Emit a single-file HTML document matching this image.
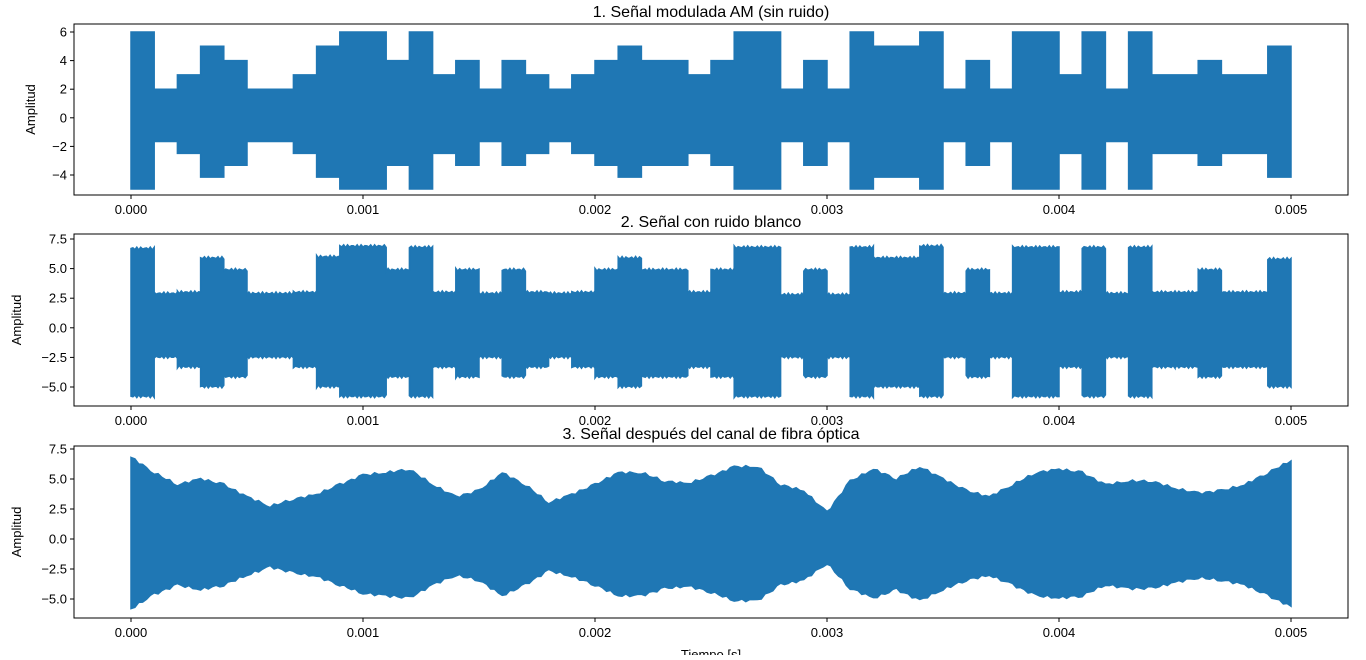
<!DOCTYPE html>
<html><head><meta charset="utf-8"><style>
body{margin:0;background:#fff;width:1366px;height:655px;overflow:hidden}
svg{font-family:"Liberation Sans","DejaVu Sans",sans-serif}
</style></head><body>
<svg id="c" width="1366" height="655"></svg>
<script>
const xTicks=[0,0.001,0.002,0.003,0.004,0.005];
const xTickLabels=["0.000","0.001","0.002","0.003","0.004","0.005"];
const symbolLevels=[6,2,3,5,4,2,2,3,5,6,6,4,6,3,4,2,4,3,2,3,4,5,4,4,3,4,6,6,2,4,2,6,5,5,6,2,4,2,6,6,3,6,2,6,3,3,4,3,3,5];
const noisyTop=[6.7,2.9,3.0,5.9,4.9,2.9,2.9,3.0,6.0,6.9,6.9,4.9,6.8,3.0,4.9,2.9,4.9,3.0,2.9,3.0,4.9,5.9,4.9,4.9,3.0,4.9,6.8,6.8,2.8,4.9,2.8,6.8,5.9,5.9,6.9,2.9,4.9,2.9,6.8,6.8,3.0,6.8,2.9,6.8,3.0,3.0,4.9,3.0,3.0,5.8];
const fiberTop=[6.8,5.5,4.5,5.0,4.5,3.5,2.7,3.3,3.7,4.5,5.3,5.5,5.8,4.5,3.5,4.0,5.5,4.5,3.0,3.7,4.5,5.5,5.5,4.8,4.6,5.2,6.0,6.0,4.5,4.0,2.2,4.8,5.8,5.0,6.0,5.0,4.0,3.5,4.5,5.5,5.8,5.5,4.5,4.8,4.8,4.2,3.8,4.0,4.5,5.5,6.5];
const fiberBottom=[-5.8,-4.6,-3.8,-4.2,-3.8,-3.0,-2.3,-2.8,-3.1,-3.8,-4.5,-4.7,-4.9,-3.8,-3.0,-3.4,-4.7,-3.8,-2.6,-3.1,-3.8,-4.7,-4.7,-4.1,-3.9,-4.4,-5.1,-5.1,-3.8,-3.4,-2.0,-4.1,-4.9,-4.2,-5.1,-4.2,-3.4,-3.0,-3.8,-4.7,-4.9,-4.7,-3.8,-4.1,-4.1,-3.6,-3.2,-3.4,-3.8,-4.7,-5.6];
const yTicks1=[6,4,2,0,-2,-4], yTickLabels1=["6","4","2","0","−2","−4"];
const yTicks23=[7.5,5,2.5,0,-2.5,-5], yTickLabels23=["7.5","5.0","2.5","0.0","−2.5","−5.0"];
const titles=["1. Señal modulada AM (sin ruido)","2. Señal con ruido blanco","3. Señal después del canal de fibra óptica"];

const NS="http://www.w3.org/2000/svg",svg=document.getElementById('c');
function mk(t,a,p){const e=document.createElementNS(NS,t);for(const k in a)e.setAttribute(k,a[k]);(p||svg).appendChild(e);return e;}
const X0=74,X1=1348,xs=v=>131+v*232000;
const panels=[{top:24,bot:195,ys:v=>117.8-v*14.3,ticks:yTicks1,labels:yTickLabels1},
{top:234,bot:406,ys:v=>327.8-v*11.84,ticks:yTicks23,labels:yTickLabels23},
{top:446,bot:618,ys:v=>539-v*12.0,ticks:yTicks23,labels:yTickLabels23}];
panels.forEach((p,pi)=>{
  const g=mk('g',{});
  
  
  let top=[],bot=[];
  if(pi<2){
    symbolLevels.forEach((L,i)=>{
      const t=pi==0?L:noisyTop[i];
      const b=pi==0?-0.83*L:-0.83*L-0.8;
      const xa=xs(i*0.0001),xb=xs((i+1)*0.0001);
      if(pi==0){top.push([xa,p.ys(t)],[xb,p.ys(t)]);bot.push([xa,p.ys(b)],[xb,p.ys(b)]);}
      else{for(let k=0;k<=12;k++){const x=xa+(xb-xa)*k/12,w=Math.sin(i*7.3+k*2.7)*0.12;top.push([x,p.ys(t+w)]);bot.push([x,p.ys(b-w)]);}}
    });
  } else {
    for(let i=0;i<fiberTop.length-1;i++){
      for(let k=0;k<6;k++){const f=k/6,x=xs((i+f)*0.0001),w=Math.sin(i*5.1+k*2.3)*0.12;
        top.push([x,p.ys(fiberTop[i]*(1-f)+fiberTop[i+1]*f+w)]);
        bot.push([x,p.ys(fiberBottom[i]*(1-f)+fiberBottom[i+1]*f-w)]);}
    }
    const n=fiberTop.length-1;
    top.push([xs(n*0.0001),p.ys(fiberTop[n])]);bot.push([xs(n*0.0001),p.ys(fiberBottom[n])]);
  }
  const pts=top.concat(bot.reverse()).map(q=>q[0].toFixed(1)+','+q[1].toFixed(1)).join(' ');
  const poly=mk('polygon',{points:pts,fill:'#1f77b4',stroke:'#1f77b4','stroke-width':1.5},g);
  
  
  const fr=mk('rect',{x:X0,y:p.top,width:X1-X0,height:p.bot-p.top,fill:'none',stroke:'#000','stroke-width':1},g);
  
  
  xTicks.forEach((v,i)=>{const x=xs(v);mk('line',{x1:x,x2:x,y1:p.bot,y2:p.bot+4,stroke:'#000'},g);
    const t=mk('text',{x:x,y:p.bot+19,'font-size':13,'text-anchor':'middle'},g);t.textContent=xTickLabels[i];
    
    });
  p.ticks.forEach((v,i)=>{const y=p.ys(v);mk('line',{x1:X0-4,x2:X0,y1:y,y2:y,stroke:'#000'},g);
    const t=mk('text',{x:X0-7,y:y+4.5,'font-size':13,'text-anchor':'end'},g);t.textContent=p.labels[i];
    
    });
  const tt=mk('text',{x:711,y:p.top-7,'font-size':16,'text-anchor':'middle'},g);tt.textContent=titles[pi];
  
  
  const lx=pi==0?35:21,yl=(p.top+p.bot)/2;
  const yt=mk('text',{x:lx,y:yl,'font-size':13,'text-anchor':'middle',transform:`rotate(-90 ${lx} ${yl})`},g);yt.textContent='Amplitud';
  
  
});
const xl=mk('text',{x:711,y:659,'font-size':13,'text-anchor':'middle'});xl.textContent='Tiempo [s]';


</script>
</body></html>
